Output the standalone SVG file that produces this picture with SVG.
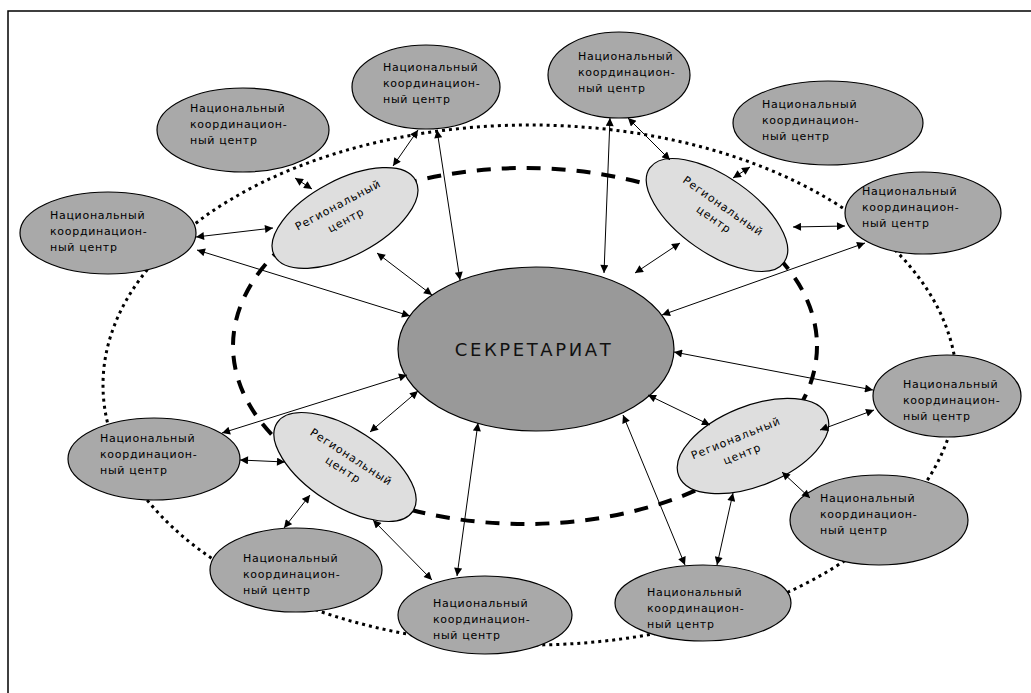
<svg xmlns="http://www.w3.org/2000/svg" width="1031" height="693" viewBox="0 0 1031 693">
<defs>
<marker id="ah" viewBox="0 0 10 10" refX="10" refY="5" markerWidth="9" markerHeight="8" markerUnits="userSpaceOnUse" orient="auto-start-reverse">
<path d="M0,0 L10,5 L0,10 z" fill="#000"/>
</marker>
<style>
.frame{fill:none;stroke:#000;stroke-width:1.5}
.outer{fill:none;stroke:#000;stroke-width:3;stroke-dasharray:3 4}
.inner{fill:none;stroke:#000;stroke-width:4;stroke-dasharray:14 11}
.nat{fill:#a9a9a9;stroke:#000;stroke-width:1.2}
.reg{fill:#dedede;stroke:#000;stroke-width:1.2}
.sec{fill:#999999;stroke:#000;stroke-width:1.2}
.t{font-family:"DejaVu Sans","Liberation Sans",sans-serif;font-size:11px;letter-spacing:0.7px;fill:#000}
.rt{font-family:"DejaVu Sans","Liberation Sans",sans-serif;font-size:11px;letter-spacing:1px;fill:#000;text-anchor:middle}
.st{font-family:"DejaVu Sans","Liberation Sans",sans-serif;font-size:18px;letter-spacing:2.6px;fill:#111;text-anchor:middle}
.c{fill:none;stroke:#000;stroke-width:1;marker-start:url(#ah);marker-end:url(#ah)}
</style>
</defs>
<rect class="frame" x="8" y="11" width="1040" height="700"/>
<ellipse class="outer" cx="530" cy="385" rx="427" ry="260"/>
<ellipse class="inner" cx="525" cy="346" rx="292" ry="178"/>

<g id="secretariat">
<ellipse class="sec" cx="536" cy="349" rx="138" ry="82"/>
<text class="st" x="534" y="356">СЕКРЕТАРИАТ</text>
</g>

<g id="regional-1" transform="translate(345,218) rotate(-28)">
<ellipse class="reg" cx="0" cy="0" rx="80" ry="38"/>
<text class="rt" x="0" y="-11">Региональный</text>
<text class="rt" x="0" y="6">центр</text>
</g>
<g id="regional-2" transform="translate(717,215) rotate(35)">
<ellipse class="reg" cx="0" cy="0" rx="82" ry="38"/>
<text class="rt" x="0" y="-7">Региональный</text>
<text class="rt" x="0" y="9">центр</text>
</g>
<g id="regional-3" transform="translate(345,467) rotate(33)">
<ellipse class="reg" cx="0" cy="0" rx="81" ry="38"/>
<text class="rt" x="0" y="-8">Региональный</text>
<text class="rt" x="0" y="7">центр</text>
</g>
<g id="regional-4" transform="translate(753,446) rotate(-22)">
<ellipse class="reg" cx="0" cy="0" rx="80" ry="40"/>
<text class="rt" x="-13" y="-10">Региональный</text>
<text class="rt" x="-13" y="7">центр</text>
</g>

<g id="national-1">
<ellipse class="nat" cx="426" cy="87" rx="74" ry="42"/>
<text class="t" x="383" y="71">Национальный<tspan x="383" dy="16">координацион-</tspan><tspan x="383" dy="16">ный центр</tspan></text>
</g>
<g id="national-2">
<ellipse class="nat" cx="619" cy="75" rx="71" ry="43"/>
<text class="t" x="578" y="60">Национальный<tspan x="578" dy="16">координацион-</tspan><tspan x="578" dy="16">ный центр</tspan></text>
</g>
<g id="national-3">
<ellipse class="nat" cx="243" cy="130" rx="86" ry="42"/>
<text class="t" x="190" y="112">Национальный<tspan x="190" dy="16">координацион-</tspan><tspan x="190" dy="16">ный центр</tspan></text>
</g>
<g id="national-4">
<ellipse class="nat" cx="828" cy="123" rx="95" ry="42"/>
<text class="t" x="762" y="108">Национальный<tspan x="762" dy="16">координацион-</tspan><tspan x="762" dy="16">ный центр</tspan></text>
</g>
<g id="national-5">
<ellipse class="nat" cx="923" cy="213" rx="78" ry="41"/>
<text class="t" x="862" y="195">Национальный<tspan x="862" dy="16">координацион-</tspan><tspan x="862" dy="16">ный центр</tspan></text>
</g>
<g id="national-6">
<ellipse class="nat" cx="947" cy="396" rx="74" ry="41"/>
<text class="t" x="903" y="388">Национальный<tspan x="903" dy="16">координацион-</tspan><tspan x="903" dy="16">ный центр</tspan></text>
</g>
<g id="national-7">
<ellipse class="nat" cx="879" cy="520" rx="89" ry="45"/>
<text class="t" x="820" y="502">Национальный<tspan x="820" dy="16">координацион-</tspan><tspan x="820" dy="16">ный центр</tspan></text>
</g>
<g id="national-8">
<ellipse class="nat" cx="703" cy="603" rx="88" ry="38"/>
<text class="t" x="647" y="596">Национальный<tspan x="647" dy="16">координацион-</tspan><tspan x="647" dy="16">ный центр</tspan></text>
</g>
<g id="national-9">
<ellipse class="nat" cx="485" cy="615" rx="87" ry="39"/>
<text class="t" x="433" y="607">Национальный<tspan x="433" dy="16">координацион-</tspan><tspan x="433" dy="16">ный центр</tspan></text>
</g>
<g id="national-10">
<ellipse class="nat" cx="296" cy="570" rx="86" ry="42"/>
<text class="t" x="243" y="562">Национальный<tspan x="243" dy="16">координацион-</tspan><tspan x="243" dy="16">ный центр</tspan></text>
</g>
<g id="national-11">
<ellipse class="nat" cx="154" cy="459" rx="86" ry="41"/>
<text class="t" x="100" y="442">Национальный<tspan x="100" dy="16">координацион-</tspan><tspan x="100" dy="16">ный центр</tspan></text>
</g>
<g id="national-12">
<ellipse class="nat" cx="108" cy="233" rx="88" ry="41"/>
<text class="t" x="50" y="219">Национальный<tspan x="50" dy="16">координацион-</tspan><tspan x="50" dy="16">ный центр</tspan></text>
</g>

<g id="connectors">
<line class="c" x1="418" y1="130" x2="393" y2="166"/>
<line class="c" x1="437" y1="130" x2="460" y2="280"/>
<line class="c" x1="610" y1="118" x2="604" y2="273"/>
<line class="c" x1="628" y1="118" x2="670" y2="160"/>
<line class="c" x1="295" y1="178" x2="312" y2="189"/>
<line class="c" x1="750" y1="167" x2="733" y2="178"/>
<line class="c" x1="845" y1="226" x2="793" y2="227"/>
<line class="c" x1="865" y1="243" x2="662" y2="315"/>
<line class="c" x1="680" y1="243" x2="635" y2="273"/>
<line class="c" x1="873" y1="390" x2="674" y2="352"/>
<line class="c" x1="874" y1="410" x2="820" y2="430"/>
<line class="c" x1="648" y1="395" x2="710" y2="425"/>
<line class="c" x1="782" y1="472" x2="810" y2="498"/>
<line class="c" x1="733" y1="493" x2="717" y2="565"/>
<line class="c" x1="623" y1="415" x2="685" y2="565"/>
<line class="c" x1="478" y1="423" x2="457" y2="576"/>
<line class="c" x1="373" y1="520" x2="432" y2="580"/>
<line class="c" x1="310" y1="495" x2="284" y2="528"/>
<line class="c" x1="285" y1="462" x2="240" y2="460"/>
<line class="c" x1="222" y1="433" x2="407" y2="375"/>
<line class="c" x1="370" y1="432" x2="418" y2="391"/>
<line class="c" x1="196" y1="237" x2="273" y2="228"/>
<line class="c" x1="197" y1="250" x2="410" y2="316"/>
<line class="c" x1="377" y1="253" x2="432" y2="295"/>
</g>
</svg>
